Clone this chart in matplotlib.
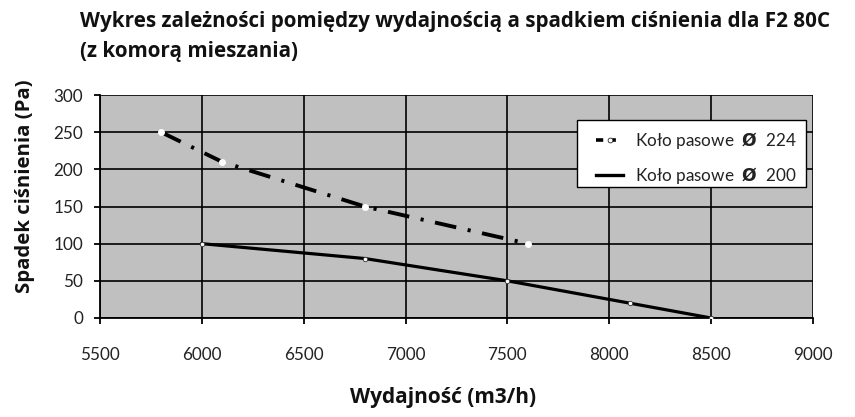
import matplotlib
matplotlib.use("Agg")
import matplotlib.pyplot as plt
from matplotlib.lines import Line2D
from matplotlib.patches import Rectangle

title_lines = ["Wykres zależności pomiędzy wydajnością a spadkiem ciśnienia dla F2 80C", "(z komorą mieszania)"]
x_label = "Wydajność (m3/h)"
y_label = "Spadek ciśnienia (Pa)"

x_224 = [5800, 6100, 6800, 7600]
y_224 = [250, 210, 150, 100]
x_200 = [6000, 6800, 7500, 8100, 8500]
y_200 = [100, 80, 50, 20, 0]

x_ticks = [5500, 6000, 6500, 7000, 7500, 8000, 8500, 9000]
y_ticks = [0, 50, 100, 150, 200, 250, 300]
legend_labels = ["Koło pasowe  $\\mathbf{Ø}$  224", "Koło pasowe  $\\mathbf{Ø}$  200"]

plt.rcParams['font.family'] = ['Lato', 'DejaVu Sans']
bold_font = ['Open Sans', 'DejaVu Sans']

W, H = 855, 417
L, R, T, B = 100, 813, 95, 318

fig = plt.figure(figsize=(W/100, H/100), dpi=100)
ax = fig.add_axes([L/W, 1-B/H, (R-L)/W, (B-T)/H])
ax.set_facecolor('#c0c0c0')
ax.set_xlim(5500, 9000)
ax.set_ylim(0, 300)
ax.set_xticks(x_ticks)
ax.set_yticks(y_ticks)
ax.grid(True, color='black', linewidth=1.2)
ax.set_axisbelow(True)
for s in ['top', 'right']:
    ax.spines[s].set_visible(False)
for s in ['left', 'bottom']:
    ax.spines[s].set_linewidth(1.3)
ax.tick_params(direction='out', length=4, width=1.3, labelsize=12.3, colors='black')
ax.tick_params(axis='x', pad=17)
ax.tick_params(axis='y', pad=8)
for lab in ax.get_xticklabels() + ax.get_yticklabels():
    lab.set_color('#222222')

ax.plot(x_224, y_224, color='black', linewidth=2.8, dashes=(5.6, 3.0, 0.8, 3.0),
        marker='o', markersize=4, markerfacecolor='white', markeredgecolor='white', zorder=3)
ax.plot(x_200, y_200, color='black', linewidth=2.3,
        marker='o', markersize=3.2, markerfacecolor='white', markeredgecolor='#333333', markeredgewidth=0.6, zorder=3)

fig.text(80/W, 1-21/H, title_lines[0], fontsize=14.9, fontweight='bold', va='center', ha='left', family=bold_font, color='#111111')
fig.text(80/W, 1-51/H, title_lines[1], fontsize=14.9, fontweight='bold', va='center', ha='left', family=bold_font, color='#111111')
fig.text(443/W, 1-398/H, x_label, fontsize=15, fontweight='bold', va='center', ha='center', family=bold_font, color='#111111')
fig.text(25/W, 1-186/H, y_label, fontsize=14.7, fontweight='bold', va='center', ha='center', rotation=90, family=bold_font, color='#111111')

# legend frame drawn as a rectangle in axes fraction coordinates
lx0, lx1, ly0, ly1 = 577, 806, 120, 187
ax.add_patch(Rectangle(((lx0-L)/(R-L), 1-(ly1-T)/(B-T)), (lx1-lx0)/(R-L), (ly1-ly0)/(B-T),
                       transform=ax.transAxes, facecolor='white', edgecolor='black', linewidth=1.0, zorder=5))

h1 = Line2D([], [], color='black', linewidth=2.6, dashes=(2, 2.5, 1.0, 2.5), marker='o', markersize=3.5,
            markerfacecolor='white', markeredgecolor='black', markeredgewidth=0.5)
h2 = Line2D([], [], color='black', linewidth=2.4)
leg = ax.legend([h1, h2], legend_labels,
                loc='upper left', bbox_to_anchor=((596-L)/(R-L), 1-(130-T)/(B-T)),
                frameon=False, fontsize=12.3, handlelength=1.6, borderpad=0, labelspacing=0.8,
                handletextpad=0.7, borderaxespad=0)
leg.set_zorder(6)
for t in leg.get_texts():
    t.set_color('#222222')

fig.savefig("out.png", dpi=100)
